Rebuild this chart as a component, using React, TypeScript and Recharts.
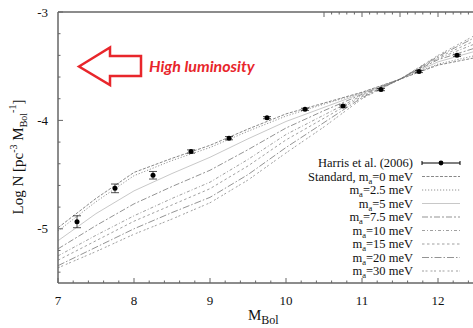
import React from 'react'
import { ComposedChart, Line, Scatter, ErrorBar, XAxis, YAxis } from 'recharts'

// model grid (M_Bol) and log N for each axion mass
const mBol = [7, 7.5, 8, 8.5, 9, 9.5, 10, 10.5, 11, 11.5, 12, 12.5]
const standard = [-4.99, -4.72, -4.48, -4.35, -4.23, -4.08, -3.94, -3.84, -3.74, -3.62, -3.49, -3.42]
const ma2_5 = [-5.02, -4.75, -4.51, -4.37, -4.25, -4.1, -3.96, -3.85, -3.745, -3.62, -3.48, -3.4]
const ma5 = [-5.11, -4.86, -4.65, -4.49, -4.34, -4.17, -4.01, -3.88, -3.75, -3.62, -3.46, -3.36]
const ma7_5 = [-5.185, -4.97, -4.77, -4.61, -4.46, -4.27, -4.07, -3.91, -3.76, -3.62, -3.44, -3.33]
const ma10 = [-5.25, -5.06, -4.88, -4.72, -4.57, -4.36, -4.13, -3.95, -3.77, -3.62, -3.43, -3.29]
const ma15 = [-5.29, -5.11, -4.93, -4.78, -4.63, -4.42, -4.18, -3.98, -3.78, -3.62, -3.42, -3.26]
const ma20 = [-5.34, -5.17, -5.0, -4.85, -4.71, -4.5, -4.25, -4.02, -3.79, -3.62, -3.41, -3.23]
const ma30 = [-5.36, -5.21, -5.05, -4.91, -4.76, -4.55, -4.3, -4.06, -3.8, -3.62, -3.4, -3.21]

// Harris et al. (2006)
const harrisX = [7.25, 7.75, 8.25, 8.75, 9.25, 9.75, 10.25, 10.75, 11.25, 11.75, 12.25]
const harrisY = [-4.935, -4.627, -4.506, -4.287, -4.164, -3.975, -3.898, -3.868, -3.716, -3.549, -3.4]
const harrisErr = [0.055, 0.04, 0.035, 0.015, 0.015, 0.01, 0.01, 0.01, 0.01, 0.01, 0.01]

const xTicks = [7, 7.2, 7.4, 7.6, 7.8, 8, 8.2, 8.4, 8.6, 8.8, 9, 9.2, 9.4, 9.6, 9.8, 10, 10.2, 10.4, 10.6, 10.8, 11, 11.2, 11.4, 11.6, 11.8, 12, 12.2, 12.4]
const yTicks = [-5.4, -5.2, -5, -4.8, -4.6, -4.4, -4.2, -4, -3.8, -3.6, -3.4, -3.2, -3]

const masses = ['0', '2.5', '5', '7.5', '10', '15', '20', '30']
const seriesVals = [standard, ma2_5, ma5, ma7_5, ma10, ma15, ma20, ma30]
const dashes = ['3 1.5', '1.2 1.8', '', '6 2 2 2', '3 2 1 2', '2.5 2.5', '7 2 1.5 2', '2 1.5 2 3']
const strokes = ['#555', '#666', '#b0b0b0', '#666', '#777', '#777', '#666', '#777']

const modelData = mBol.map((x, i) => {
  const row: any = { x }
  seriesVals.forEach((s, k) => { row['s' + k] = s[i] })
  return row
})
const harrisData = harrisX.map((x, i) => ({ x, y: harrisY[i], err: harrisErr[i] }))

const FONT = '"Liberation Serif", "Times New Roman", serif'
const AXIS = '#666'

const BottomTick = ({ x, y, payload }: any) => {
  const major = Number.isInteger(payload.value)
  return (
    <g>
      <line x1={x} x2={x} y1={y} y2={y - (major ? 5 : 2.5)} stroke={AXIS} />
      {major && <text x={x} y={y + 22} textAnchor="middle" fontSize={13} fontFamily={FONT} fill="#111">{payload.value}</text>}
    </g>
  )
}
const TopTick = ({ x, y, payload }: any) => {
  const major = Number.isInteger(payload.value)
  return <line x1={x} x2={x} y1={y} y2={y + (major ? 5 : 2.5)} stroke={AXIS} />
}
const LeftTick = ({ x, y, payload }: any) => {
  const major = Number.isInteger(payload.value)
  return (
    <g>
      <line x1={x} x2={x + (major ? 5 : 2.5)} y1={y} y2={y} stroke={AXIS} />
      {major && <text x={x - 10} y={y + 4.5} textAnchor="end" fontSize={13} fontFamily={FONT} fill="#111">{payload.value}</text>}
    </g>
  )
}
const RightTick = ({ x, y, payload }: any) => {
  const major = Number.isInteger(payload.value)
  return <line x1={x} x2={x - (major ? 5 : 2.5)} y1={y} y2={y} stroke={AXIS} />
}

function Legend() {
  const textX = 413
  const rows = [163, 176.5, 190, 203.5, 217, 230.5, 244, 257.5, 271]
  return (
    <g fontFamily={FONT} fontSize={12.5} fill="#111">
      <text x={textX} y={rows[0] + 4} textAnchor="end">Harris et al. (2006)</text>
      <line x1={422} x2={460} y1={rows[0]} y2={rows[0]} stroke="#000" />
      <line x1={422} x2={422} y1={rows[0] - 2} y2={rows[0] + 2} stroke="#000" />
      <line x1={460} x2={460} y1={rows[0] - 2} y2={rows[0] + 2} stroke="#000" />
      <circle cx={441} cy={rows[0]} r={2.4} fill="#000" />
      {masses.map((m, k) => (
        <g key={m}>
          <text x={textX} y={rows[k + 1] + 4} textAnchor="end">
            {k === 0 ? 'Standard, m' : 'm'}
            <tspan fontSize={8.5} dy={3}>a</tspan>
            <tspan dy={-3}>{'=' + m + ' meV'}</tspan>
          </text>
          <line x1={422} x2={460} y1={rows[k + 1]} y2={rows[k + 1]} stroke={strokes[k]} strokeWidth={0.7} strokeDasharray={dashes[k] || undefined} />
        </g>
      ))}
    </g>
  )
}

export default function App() {
  return (
    <div style={{ position: 'absolute', left: 0, top: 0, width: 473, height: 328, overflow: 'hidden', background: '#fff' }}>
      <ComposedChart width={480} height={328} data={modelData} margin={{ top: 11, right: 3, bottom: 0, left: 0 }}>
        <XAxis dataKey="x" type="number" domain={[7, 12.5]} ticks={xTicks} interval={0} height={45}
          tickSize={0} tickMargin={0} tickLine={false} axisLine={{ stroke: AXIS, strokeWidth: 1.5 }} tick={<BottomTick />} />
        <XAxis xAxisId="top" orientation="top" type="number" domain={[7, 12.5]} ticks={xTicks} interval={0} height={1}
          tickSize={0} tickMargin={0} tickLine={false} axisLine={{ stroke: AXIS, strokeWidth: 1.5 }} tick={<TopTick />} />
        <YAxis type="number" domain={[-5.5, -3]} ticks={yTicks} interval={0} width={58}
          tickSize={0} tickMargin={0} tickLine={false} axisLine={{ stroke: AXIS, strokeWidth: 1.5 }} tick={<LeftTick />} />
        <YAxis yAxisId="right" orientation="right" type="number" domain={[-5.5, -3]} ticks={yTicks} interval={0} width={1}
          tickSize={0} tickMargin={0} tickLine={false} axisLine={{ stroke: AXIS, strokeWidth: 1.5 }} tick={<RightTick />} />
        {seriesVals.map((_, k) => (
          <Line key={k} dataKey={'s' + k} type="linear" dot={false} activeDot={false} stroke={strokes[k]}
            strokeWidth={0.7} strokeDasharray={dashes[k] || undefined} isAnimationActive={false} />
        ))}
        <Scatter data={harrisData} dataKey="y" isAnimationActive={false}
          shape={(p: any) => <circle cx={p.cx} cy={p.cy} r={2.5} fill="#000" />}>
          <ErrorBar dataKey="err" direction="y" width={4} stroke="#222" strokeWidth={0.8} isAnimationActive={false} />
        </Scatter>
      </ComposedChart>
      <svg width={473} height={328} style={{ position: 'absolute', left: 0, top: 0, pointerEvents: 'none' }}>
        <polygon points="79,66.5 110,47.5 110,56 141,56 141,76 110,76 110,85" fill="#fff" stroke="#e8262b" strokeWidth={2.5} strokeLinejoin="miter" />
        <text x={149} y={71.5} fill="#e8262b" fontFamily="Lato, 'Open Sans', sans-serif" fontWeight="bold" fontStyle="italic" fontSize={16}>High luminosity</text>
        <Legend />
        <text transform="translate(23,157) rotate(-90)" textAnchor="middle" fontFamily={FONT} fontSize={15} fill="#111">
          Log N [pc<tspan fontSize={10} dy={-6}>-3</tspan><tspan dy={6}> M</tspan><tspan fontSize={10} dy={4}>Bol</tspan><tspan fontSize={10} dy={-11}>-1</tspan><tspan dy={7}>]</tspan>
        </text>
        <text x={248} y={320} fontFamily={FONT} fontSize={15} fill="#111">
          M<tspan fontSize={12} dy={4}>Bol</tspan>
        </text>
      </svg>
    </div>
  )
}
